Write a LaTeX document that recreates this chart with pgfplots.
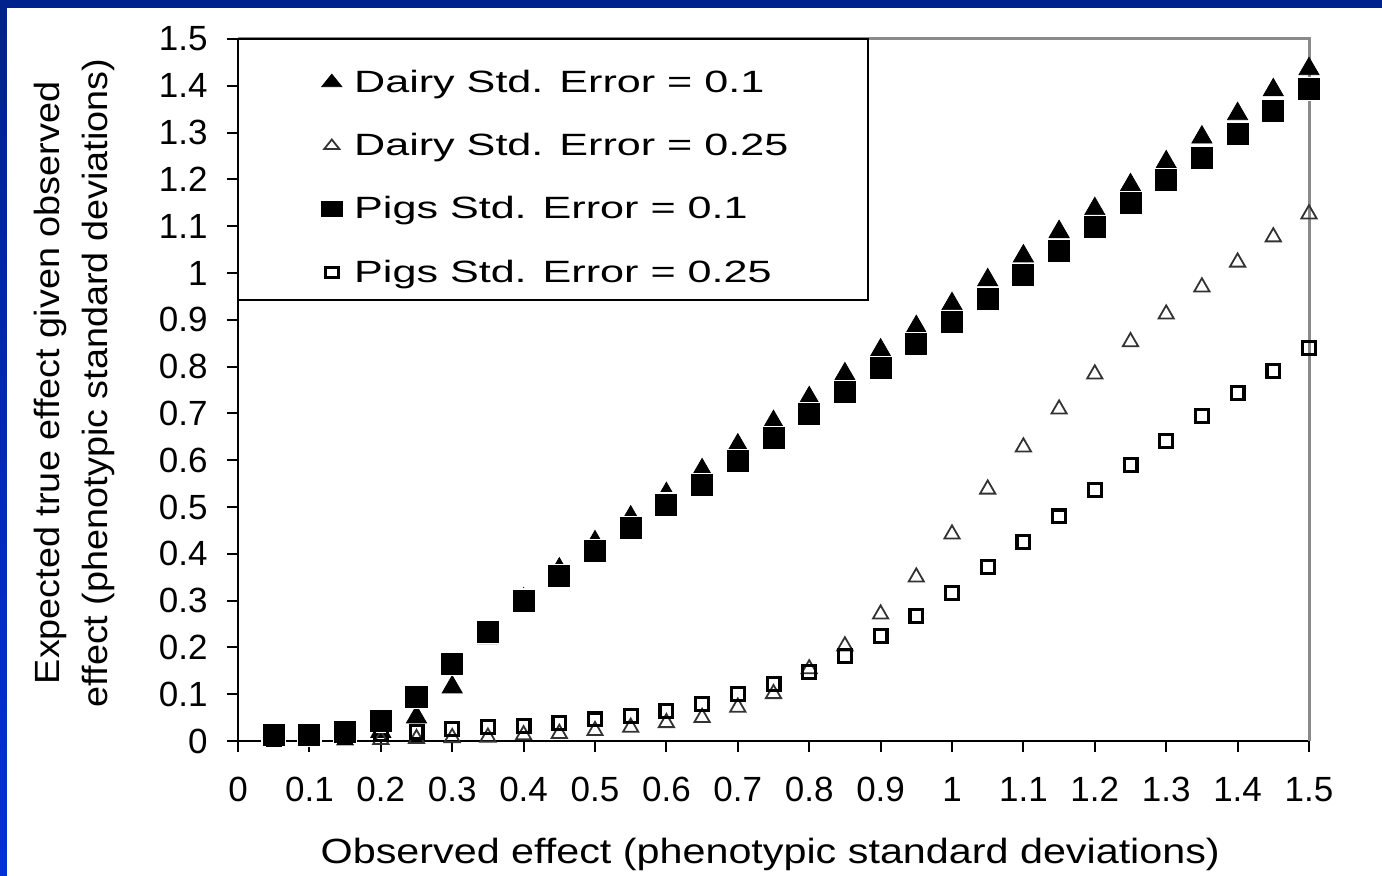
\documentclass[border=0pt]{standalone}
\usepackage{fontspec}
\setmainfont{Liberation Sans}
\newfontfamily\legendfont[FakeStretch=1.4]{Liberation Sans}
\newfontfamily\xlabelfont[FakeStretch=1.18]{Liberation Sans}
\newfontfamily\ylabelfont[FakeStretch=1.08]{Liberation Sans}
\usepackage{pgfplots}
\usepackage{pgfplotstable}
\pgfplotsset{compat=1.18}

\definecolor{slidenavy}{HTML}{00228C}
\definecolor{slideblue}{HTML}{0033D4}
\definecolor{framegray}{HTML}{8A8A8A}

% Expected true effect given the observed effect (phenotypic SD units)
\pgfplotstableread{
x     dairyA  dairyB  pigsA  pigsB
0.05  0.010   0.001   0.013  0.005
0.10  0.010   0.001   0.013  0.006
0.15  0.012   0.002   0.019  0.008
0.20  0.020   0.003   0.043  0.015
0.25  0.051   0.005   0.094  0.019
0.30  0.115   0.007   0.165  0.025
0.35  0.220   0.008   0.233  0.030
0.40  0.303   0.013   0.300  0.032
0.45  0.367   0.016   0.353  0.038
0.50  0.425   0.022   0.405  0.046
0.55  0.478   0.029   0.455  0.054
0.60  0.528   0.039   0.505  0.064
0.65  0.579   0.050   0.547  0.079
0.70  0.632   0.072   0.598  0.100
0.75  0.682   0.101   0.647  0.122
0.80  0.733   0.154   0.699  0.148
0.85  0.784   0.203   0.746  0.182
0.90  0.835   0.271   0.797  0.224
0.95  0.885   0.350   0.848  0.267
1.00  0.934   0.442   0.895  0.316
1.05  0.985   0.538   0.944  0.372
1.10  1.036   0.628   0.996  0.425
1.15  1.088   0.709   1.047  0.480
1.20  1.137   0.784   1.098  0.536
1.25  1.188   0.853   1.150  0.590
1.30  1.237   0.912   1.199  0.641
1.35  1.290   0.970   1.246  0.694
1.40  1.340   1.023   1.297  0.744
1.45  1.391   1.077   1.346  0.790
1.50  1.436   1.126   1.393  0.840
}\effects

\pgfplotsset{
  legmark/.style={
    legend image code/.code={
      \path (0pt,-5pt) (55.5pt,5pt);
      \draw[##1, /tikz/every mark/.append style={yscale=0.72}]
        plot coordinates {(46.5pt,0pt)};
    }
  }
}

\begin{document}
\begin{tikzpicture}
\useasboundingbox (0,0) rectangle (691pt,438pt);
% slide background
\fill[slidenavy] (0,0) rectangle (691pt,438pt);
\shade[top color=slidenavy, bottom color=slideblue] (0,0) rectangle (3.7pt,434pt);
\fill[white] (3.7pt,0) rectangle (691pt,434pt);

\begin{axis}[
  at={(119pt,67.5pt)}, anchor=south west,
  scale only axis, width=535.5pt, height=351pt,
  xmin=0, xmax=1.5, ymin=0, ymax=1.5,
  clip=false,
  axis x line*=bottom, axis y line*=left,
  axis line style={black, line width=1pt},
  tick align=outside, major tick length=5.5pt,
  tick style={black, line width=1pt},
  xtick={0,0.1,0.2,0.3,0.4,0.5,0.6,0.7,0.8,0.9,1,1.1,1.2,1.3,1.4,1.5},
  xticklabels={0,0.1,0.2,0.3,0.4,0.5,0.6,0.7,0.8,0.9,1,1.1,1.2,1.3,1.4,1.5},
  ytick={0,0.1,0.2,0.3,0.4,0.5,0.6,0.7,0.8,0.9,1,1.1,1.2,1.3,1.4,1.5},
  yticklabels={0,0.1,0.2,0.3,0.4,0.5,0.6,0.7,0.8,0.9,1,1.1,1.2,1.3,1.4,1.5},
  /pgf/number format/assume math mode=true,
  ticklabel style={font=\fontsize{17.5}{21}\selectfont, inner sep=0pt},
  yticklabel style={anchor=east, xshift=-9.5pt},
  xticklabel style={anchor=north, yshift=-12.5pt},
  xlabel={Observed effect (phenotypic standard deviations)},
  xlabel style={font=\xlabelfont\fontsize{17.5}{21}\selectfont,
    at={(axis description cs:0.497,-0.1752)}, anchor=base},
  ylabel={Expected true effect given observed\\effect (phenotypic standard deviations)},
  ylabel style={font=\ylabelfont\fontsize{17.5}{24}\selectfont, align=center,
    at={(axis description cs:-0.153,0.51)}, anchor=center, rotate=0},
  legend style={draw=none, fill=none, at={(axis description cs:0,1)},
    anchor=north west, inner xsep=0pt, inner ysep=0pt, yshift=-13.25pt,
    row sep=15pt, font=\legendfont\fontsize{15.4}{18}\selectfont},
  legend cell align=left,
]
% plot-area frame on the top and right
\draw[framegray, line width=1.5pt] (rel axis cs:0,1) -- (rel axis cs:1,1) -- (rel axis cs:1,0);

\addplot[only marks, mark=triangle*, mark size=5.8pt,
  mark options={fill=black, draw=black, line width=0.4pt}, legmark]
  table[x=x, y=dairyA] {\effects};
\addlegendentry{Dairy Std. Error = 0.1}

\addplot[only marks, mark=triangle, mark size=4.4pt,
  mark options={draw=black!80, fill=none, line width=0.9pt}, legmark]
  table[x=x, y=dairyB] {\effects};
\addlegendentry{Dairy Std. Error = 0.25}

\addplot[only marks, mark=square*, mark size=5.8pt,
  mark options={fill=black, draw=white, line width=0.6pt}, legmark]
  table[x=x, y=pigsA] {\effects};
\addlegendentry{Pigs Std. Error = 0.1}

\addplot[only marks, mark=square, mark size=3.2pt,
  mark options={draw=black, fill=none, line width=1.6pt}, legmark]
  table[x=x, y=pigsB] {\effects};
\addlegendentry{Pigs Std. Error = 0.25}

% legend frame
\draw[black, line width=1pt] (rel axis cs:0,1) rectangle (rel axis cs:0.5882,0.6282);
\end{axis}
\end{tikzpicture}
\end{document}
